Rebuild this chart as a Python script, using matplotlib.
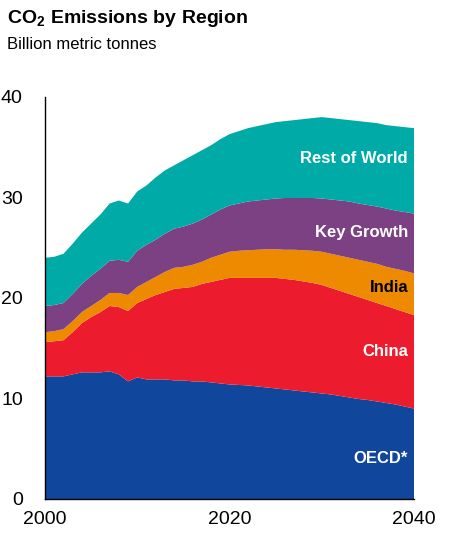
import numpy as np
import matplotlib
matplotlib.use("Agg")
import matplotlib.pyplot as plt

plt.rcParams['font.family'] = ['Liberation Sans', 'DejaVu Sans']
plt.rcParams['mathtext.fontset'] = 'custom'
plt.rcParams['mathtext.rm'] = 'Liberation Sans'
plt.rcParams['mathtext.bf'] = 'Liberation Sans:bold'

years = list(range(2000, 2041))

# billion metric tonnes
oecd = [12.2, 12.2, 12.2, 12.4, 12.6, 12.6, 12.6, 12.7, 12.4, 11.7,
        12.1, 11.9, 11.9, 11.9, 11.8, 11.8, 11.7, 11.7, 11.6, 11.5,
        11.4, 11.35, 11.3, 11.2, 11.1, 11.0, 10.9, 10.8, 10.7, 10.6,
        10.5, 10.4, 10.25, 10.1, 9.95, 9.85, 9.7, 9.55, 9.4, 9.2, 9.0]
china = [3.4, 3.5, 3.6, 4.2, 4.9, 5.5, 6.0, 6.5, 6.7, 7.0,
         7.4, 8.0, 8.4, 8.7, 9.1, 9.2, 9.4, 9.7, 10.0, 10.3,
         10.6, 10.65, 10.7, 10.8, 10.9, 11.0, 11.0, 11.0, 10.95, 10.9,
         10.8, 10.6, 10.45, 10.3, 10.15, 9.95, 9.8, 9.65, 9.5, 9.4, 9.3]
india = [1.0, 1.0, 1.1, 1.1, 1.1, 1.1, 1.2, 1.3, 1.4, 1.6,
         1.6, 1.7, 1.8, 2.0, 2.1, 2.1, 2.2, 2.2, 2.4, 2.5,
         2.6, 2.7, 2.75, 2.8, 2.85, 2.85, 2.9, 3.0, 3.1, 3.2,
         3.3, 3.4, 3.5, 3.6, 3.7, 3.8, 3.9, 3.9, 4.0, 4.1, 4.15]
key_growth = [2.6, 2.6, 2.6, 2.7, 2.8, 3.0, 3.1, 3.2, 3.3, 3.3,
              3.6, 3.7, 3.7, 3.8, 3.9, 4.0, 4.1, 4.2, 4.3, 4.5,
              4.6, 4.7, 4.85, 4.9, 4.95, 5.05, 5.15, 5.15, 5.2, 5.25,
              5.3, 5.4, 5.5, 5.6, 5.6, 5.65, 5.7, 5.8, 5.8, 5.85, 5.95]
rest = [4.8, 4.8, 4.9, 5.0, 5.1, 5.2, 5.4, 5.7, 5.9, 5.8,
        5.9, 5.9, 6.2, 6.3, 6.3, 6.6, 6.8, 6.9, 6.9, 7.0,
        7.1, 7.2, 7.3, 7.4, 7.5, 7.6, 7.65, 7.75, 7.85, 7.95,
        8.1, 8.1, 8.1, 8.1, 8.2, 8.25, 8.3, 8.3, 8.4, 8.45, 8.5]

names = ["OECD*", "China", "India", "Key Growth", "Rest of World"]
colors = ["#10469b", "#ec1c2e", "#ee8a00", "#7b4183", "#00aba7"]
text_colors = ["white", "white", "black", "white", "white"]
label_y = [3.6, 14.23, 20.6, 26.04, 33.44]

fig = plt.figure(figsize=(4.5, 5.35), dpi=100)
ax = fig.add_axes([0.1, 0.0673, 0.82, 0.7514])

ax.stackplot(years, oecd, china, india, key_growth, rest,
             colors=colors, linewidth=0)

for name, c, yy in zip(names, text_colors, label_y):
    ax.text(2039.35, yy, name, color=c, ha='right', va='baseline',
            fontsize=12, fontweight='bold')

ax.set_xlim(2000, 2040)
ax.set_ylim(0, 40)
ax.set_xticks([2000, 2020, 2040])
ax.set_yticks([0, 10, 20, 30, 40])
ax.tick_params(length=0, labelsize=14, colors='black')
ax.tick_params(axis='y', pad=16)
ax.tick_params(axis='x', pad=9)
for s in ['top', 'right']:
    ax.spines[s].set_visible(False)
for s in ['left', 'bottom']:
    ax.spines[s].set_color('black')
    ax.spines[s].set_linewidth(1)

fig.text(0.016, 0.9564, r'CO$_\mathbf{2}$ Emissions by Region',
         fontsize=14, fontweight='bold', va='baseline')
fig.text(0.016, 0.9084, 'Billion metric tonnes', fontsize=12, va='baseline')

fig.savefig('out.png', dpi=100)
